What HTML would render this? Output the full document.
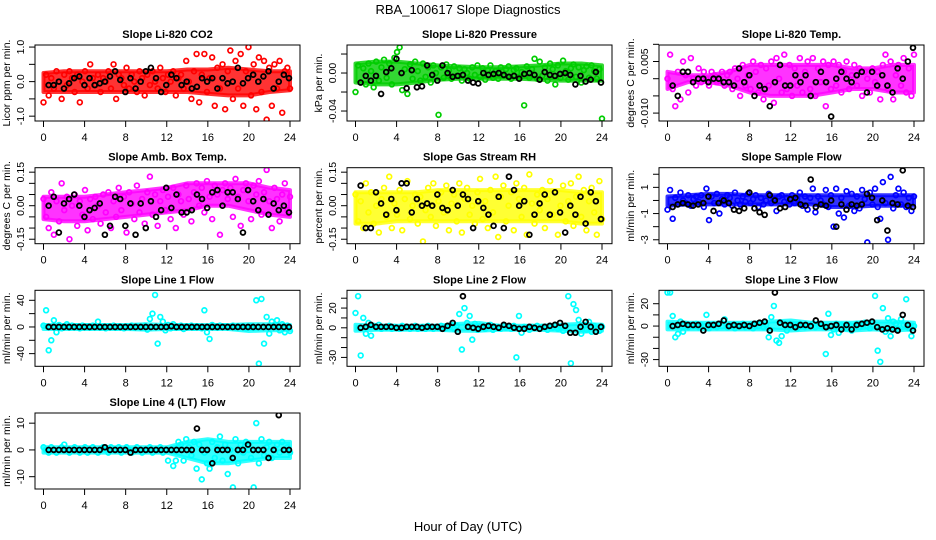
<!DOCTYPE html>
<html><head><meta charset="utf-8">
<style>
html,body{margin:0;padding:0;background:#fff;}
svg{display:block;font-family:"Liberation Sans",Arial,sans-serif;}
</style></head>
<body>
<svg id="chart" width="936" height="540" viewBox="0 0 936 540" xmlns="http://www.w3.org/2000/svg">
<rect width="936" height="540" fill="#fff"/>
<text x="468" y="14" font-size="13" text-anchor="middle">RBA_100617  Slope Diagnostics</text>
<text x="468" y="531" font-size="13" text-anchor="middle">Hour of Day (UTC)</text>
</svg>
<script>
const xTicks = [0,4,8,12,16,20,24];
const bandHours = [0,2,4,6,8,10,12,14,16,18,20,22,24];
const panelTitles = ["Slope Li-820 CO2","Slope Li-820 Pressure","Slope Li-820 Temp.","Slope Amb. Box Temp.","Slope Gas Stream RH","Slope Sample Flow","Slope Line 1 Flow","Slope Line 2 Flow","Slope Line 3 Flow","Slope Line 4 (LT) Flow"];
const yTitles = ["Licor ppm per min.","kPa per min.","degrees C per min.","degrees C per min.","percent per min.","ml/min per min.","ml/min per min.","ml/min per min.","ml/min per min.","ml/min per min."];
const yLims = [[-1.14,1.06],[-0.0505,0.0295],[-0.0123,0.0098],[-0.17,0.17],[-0.17,0.17],[-3.3,2.5],[-59,55],[-39,38],[-36,32],[-14.6,13.8]];
const yTickVals = [[-1,-0.5,0,0.5,1],[-0.04,-0.02,0,0.02],[-0.01,-0.005,0,0.005,0.01],[-0.15,-0.1,-0.05,0,0.05,0.1,0.15],[-0.15,-0.1,-0.05,0,0.05,0.1,0.15],[-3,-2,-1,0,1,2],[-40,-20,0,20,40],[-30,-20,-10,0,10,20,30],[-30,-20,-10,0,10,20],[-10,0,10]];
const yTickLabels = [["-1.0","","0.0","","1.0"],["-0.04","","0.00",""],["-0.010","","","0.005",""],["-0.15","","","0.00","","","0.15"],["-0.15","","","0.00","","","0.15"],["-3","","-1","","1",""],["-40","","0","","40"],["-30","","","0","","20",""],["-30","","","0","","20"],["-10","0","10"]];
const seriesColors = ["#ff0000","#00cd00","#ff00ff","#ff00ff","#ffff00","#0000ff","#00ffff","#00ffff","#00ffff","#00ffff"];

const bandHi1=[0.25,0.3,0.3,0.3,0.3,0.3,0.3,0.35,0.35,0.4,0.35,0.3,0.3];
const bandLo1=[-0.3,-0.3,-0.3,-0.3,-0.3,-0.3,-0.3,-0.3,-0.35,-0.4,-0.4,-0.3,-0.25];
const bandHi2=[0.01,0.012,0.012,0.01,0.008,0.007,0.006,0.006,0.007,0.008,0.01,0.01,0.008];
const bandLo2=[-0.01,-0.012,-0.012,-0.01,-0.007,-0.006,-0.006,-0.006,-0.006,-0.007,-0.008,-0.008,-0.008];
const bandHi3=[0.002,0.001,0.001,0.002,0.004,0.004,0.004,0.004,0.004,0.003,0.003,0.004,0.004];
const bandLo3=[-0.003,-0.001,-0.001,-0.002,-0.004,-0.005,-0.005,-0.005,-0.004,-0.003,-0.003,-0.004,-0.004];
const bandHi4=[0.04,0.04,0.04,0.05,0.06,0.07,0.08,0.1,0.1,0.1,0.1,0.08,0.07];
const bandLo4=[-0.06,-0.07,-0.07,-0.06,-0.05,-0.04,-0.03,-0.02,0.0,0.0,-0.02,-0.04,-0.05];
const bandHi5=[0.06,0.06,0.06,0.06,0.07,0.07,0.07,0.07,0.07,0.07,0.07,0.06,0.06];
const bandLo5=[-0.08,-0.08,-0.07,-0.07,-0.07,-0.07,-0.07,-0.07,-0.07,-0.07,-0.07,-0.08,-0.08];
const bandHi6=[0.3,0.4,0.5,0.5,0.4,0.4,0.4,0.4,0.4,0.4,0.4,0.4,0.4];
const bandLo6=[-0.4,-0.3,-0.3,-0.3,-0.3,-0.3,-0.3,-0.3,-0.5,-0.5,-0.4,-0.4,-0.4];
const bandHi7=[3,3,3,3,3,4,3,3,3,3,4,4,3];
const bandLo7=[-3,-3,-3,-3,-3,-4,-3,-3,-3,-3,-6,-5,-5];
const bandHi8=[3,2,2,2,2,4,5,2,2,2,3,4,3];
const bandLo8=[-3,-2,-2,-2,-2,-3,-3,-2,-2,-2,-3,-4,-3];
const bandHi9=[4,3,3,3,3,4,5,3,3,3,4,4,3];
const bandLo9=[-3,-3,-3,-3,-3,-3,-4,-3,-3,-4,-3,-4,-3];
const bandHi10=[1,1,1,1,1,1,1,3,4,3,3,3,3];
const bandLo10=[-1,-1,-1,-1,-1,-1,-1,-3,-5,-5,-4,-3,-3];

const c1=[-0.6,0.2,-0.4,0.1,-0.2,0.3,0.0,-0.5,0.2,-0.1,0.3,0.1,-0.3,0.2,-0.6,0.0,0.3,-0.2,0.5,0.1,-0.1,0.2,-0.3,0.1,0.0,0.3,-0.2,0.5,-0.5,0.2,0.1,-0.1,0.4,-0.2,0.2,0.0,-0.3,0.3,0.1,-0.4,0.2,-0.1,0.3,0.0,-0.2,0.4,0.1,-0.3,0.2,0.0,0.3,-0.4,0.1,0.2,-0.2,0.6,0.0,-0.5,0.3,0.8,-0.6,0.2,0.8,-0.3,0.1,0.7,-0.7,0.4,-0.2,0.5,-0.8,0.3,0.9,-0.5,0.6,-0.2,0.8,-0.7,0.3,1.0,-0.4,0.5,-0.8,0.7,-0.3,0.6,-1.1,0.4,-0.7,0.5,-0.2,0.6,-0.9,0.3,0.4,-0.2];
const b1=[-0.1,-0.1,0.0,-0.2,-0.05,0.1,0.15,-0.1,0.1,-0.1,-0.05,0.0,0.15,0.3,0.05,-0.3,0.1,-0.2,0.0,0.3,0.4,0.1,-0.3,-0.1,0.2,0.1,-0.1,0.0,-0.2,-0.15,0.1,0.0,0.1,-0.2,0.1,-0.05,0.0,0.4,-0.05,0.1,0.2,0.0,0.15,0.3,-0.2,0.0,0.2,0.1];
const c2=[-0.02,0.008,-0.01,0.005,-0.012,0.01,0.002,-0.015,0.012,-0.008,0.006,0.014,-0.005,0.01,-0.012,0.016,0.022,0.027,-0.018,0.004,-0.022,0.009,-0.006,0.012,0.002,-0.008,0.01,-0.004,0.006,-0.01,0.008,0.0,-0.044,0.006,-0.005,0.009,0.003,-0.006,0.007,-0.003,0.005,-0.008,0.004,0.0,-0.006,0.006,-0.002,0.008,-0.004,0.005,-0.007,0.003,0.008,-0.005,0.002,-0.006,0.006,-0.003,0.004,0.007,-0.006,0.003,0.005,-0.004,0.001,-0.034,0.007,-0.005,0.004,0.015,-0.006,0.012,-0.003,0.006,-0.008,0.01,0.004,-0.012,0.008,-0.005,0.013,0.002,-0.007,0.005,0.009,-0.004,0.006,-0.01,0.003,0.007,-0.005,0.008,0.002,-0.006,0.004,-0.048];
const b2=[-0.01,-0.003,-0.008,-0.003,-0.022,0.001,0.005,0.015,0.0,-0.016,0.003,-0.015,-0.014,0.008,-0.002,-0.008,0.008,0.0,-0.004,-0.003,-0.002,-0.008,-0.01,-0.011,0.0,-0.002,-0.001,0.0,-0.002,-0.004,-0.003,-0.006,-0.001,0.0,-0.002,-0.007,0.001,-0.002,-0.003,-0.001,0.0,-0.002,-0.012,-0.003,-0.009,-0.007,0.001,-0.01];
const c3=[0.0,0.007,-0.003,-0.008,0.002,-0.006,0.005,0.001,-0.004,0.006,0.0,-0.002,0.003,-0.001,0.002,0.0,-0.002,0.002,0.001,-0.001,0.0,0.002,-0.002,0.001,0.002,-0.003,0.003,0.0,-0.005,0.004,-0.002,0.001,-0.003,0.005,0.002,-0.004,0.004,-0.006,0.003,-0.002,0.005,-0.007,0.006,0.0,-0.004,0.007,-0.003,0.004,-0.005,0.003,-0.002,0.006,-0.004,0.002,0.005,-0.003,0.006,-0.005,0.003,-0.001,0.005,-0.008,0.004,-0.003,0.005,-0.002,0.004,-0.004,0.002,0.005,-0.003,0.001,0.004,-0.002,0.003,-0.005,0.002,0.0,-0.004,0.003,-0.001,0.002,-0.006,0.004,0.007,-0.003,0.005,-0.006,0.001,0.004,-0.002,0.006,-0.004,0.003,-0.005,0.007];
const b3=[-0.002,-0.005,0.002,0.002,-0.001,0.0,0.0,-0.001,0.0,0.0,-0.001,-0.001,-0.002,0.003,-0.001,0.001,-0.005,-0.002,-0.003,-0.008,-0.001,0.004,-0.002,-0.002,0.001,-0.001,0.001,-0.005,-0.001,0.002,-0.001,-0.011,0.0,0.002,0.0,-0.001,0.001,0.002,-0.004,0.002,-0.002,0.001,-0.002,-0.004,0.003,0.0,0.005,0.009];
const c4=[0.03,-0.05,-0.1,0.06,-0.13,0.02,-0.07,0.1,-0.02,0.04,-0.15,0.0,0.05,-0.09,0.02,-0.04,0.07,-0.11,0.03,-0.06,0.04,0.0,-0.08,0.05,-0.03,0.06,-0.1,0.02,-0.05,0.08,-0.02,0.04,-0.12,0.06,0.01,-0.06,0.09,-0.03,0.03,-0.08,0.06,0.13,-0.04,0.05,-0.09,0.02,0.07,-0.02,0.04,-0.06,0.08,-0.1,0.05,0.02,-0.04,0.09,0.03,-0.07,0.06,0.1,0.0,0.08,-0.03,0.11,0.04,-0.06,0.09,0.05,-0.13,0.07,0.1,0.03,0.08,-0.05,0.12,0.04,-0.09,0.07,0.1,0.02,-0.06,0.09,0.05,0.11,-0.04,0.06,0.16,0.02,-0.1,0.08,0.03,-0.07,0.05,0.1,-0.02,0.04];
const b4=[0.0,0.04,-0.12,0.01,0.03,0.05,0.0,-0.05,-0.02,-0.01,0.01,-0.13,-0.09,0.04,0.03,-0.09,0.01,-0.13,0.01,-0.1,0.02,-0.05,-0.02,0.08,-0.01,0.05,-0.03,-0.03,-0.02,0.05,0.03,-0.01,0.06,0.07,0.0,0.06,0.06,0.03,-0.12,0.07,0.02,-0.02,0.03,-0.04,0.01,-0.02,0.0,-0.03];
const c5=[0.05,-0.07,0.02,-0.1,0.1,-0.03,0.06,-0.08,0.0,-0.12,0.03,0.08,-0.05,0.13,-0.1,0.01,-0.04,0.07,-0.11,0.03,0.11,-0.06,0.0,0.05,-0.08,0.04,-0.16,-0.02,0.08,-0.05,0.1,-0.09,0.02,0.06,-0.03,0.09,-0.11,0.01,0.05,-0.07,0.1,-0.12,0.03,0.08,-0.04,0.0,-0.08,0.06,0.12,-0.06,0.02,-0.1,0.07,-0.03,0.13,-0.14,0.04,0.09,-0.07,0.0,0.06,-0.11,0.1,0.03,-0.05,0.08,-0.13,0.14,0.01,-0.08,0.05,-0.02,0.07,-0.1,0.03,0.11,-0.04,0.06,-0.13,0.0,0.09,-0.07,0.02,0.1,-0.09,0.04,0.13,-0.05,0.07,-0.11,0.02,0.08,-0.03,-0.13,0.11,-0.06];
const b5=[0.09,-0.1,-0.1,0.06,0.01,-0.04,0.03,-0.02,0.1,0.1,-0.03,0.03,0.0,0.01,0.0,0.05,-0.01,-0.02,0.07,0.0,0.05,0.03,-0.1,0.02,-0.01,-0.04,-0.09,0.04,-0.1,0.13,0.07,0.0,0.02,-0.13,-0.04,0.01,0.05,-0.04,0.06,-0.03,-0.12,0.0,-0.04,0.04,-0.08,0.06,0.02,-0.06];
const c6=[-0.7,0.8,-1.4,0.2,-0.3,0.6,0.0,-0.2,0.4,-0.4,0.1,0.3,-0.1,0.4,-0.5,0.9,-1.5,0.3,-0.2,0.5,-1.0,0.1,-0.3,0.4,0.2,-0.4,0.6,0.0,-0.3,0.3,-0.1,0.5,-0.2,0.1,0.4,-0.5,0.2,-0.3,0.0,0.5,-0.2,0.1,-0.8,0.3,0.4,-0.1,0.2,-0.3,0.4,-0.2,0.1,0.6,-0.4,0.3,-0.7,0.2,0.9,-0.9,0.3,0.0,-0.3,0.8,-0.5,0.4,-2.0,0.9,-1.0,0.2,-1.3,0.7,-0.4,0.5,-0.8,0.3,-0.6,0.8,0.1,-3.2,0.6,-0.3,0.9,-0.5,-1.4,1.4,-0.2,-3.0,1.8,-0.6,0.4,0.9,-0.3,0.6,-0.5,0.2,-0.8,0.3];
const b6=[-0.5,-0.3,-0.2,-0.3,-0.4,-0.3,-0.2,0.3,-0.8,-0.2,0.0,-0.2,-0.7,-0.8,-0.6,0.6,-0.6,-0.9,-1.1,0.4,0.0,-0.6,-0.5,0.1,0.2,-0.3,-0.4,1.6,-0.5,-0.3,-0.4,0.0,-2.0,-0.3,-0.7,-0.3,-0.4,-0.3,0.5,0.2,-1.5,0.0,-2.3,-0.2,-0.3,2.3,-0.4,-0.5];
const c7=[2,25,-35,-20,10,-8,3,-2,1,4,-1,2,0,1,-2,2,0,1,-1,2,0,8,-1,1,-2,1,0,2,-1,1,0,-2,1,0,2,-1,1,0,-1,2,-4,12,20,48,-25,15,8,-5,3,-2,4,-1,0,2,-3,1,0,2,-1,1,0,-2,25,-8,-18,3,1,-1,2,0,1,-1,0,2,-1,1,0,1,-2,0,1,-1,40,-55,42,-25,15,-10,8,3,10,-5,4,-8,2,-6];
const b7=[0,0,0,0,0,0,0,0,0,0,0,0,0,0,0,0,0,0,0,0,0,0,0,0,1,0,0,0,0,0,0,0,0,0,0,0,0,0,0,0,0,0,0,0,0,0,0,0];
const c8=[15,32,-28,10,-6,5,-8,2,0,3,-1,1,0,2,-1,1,0,-1,2,0,1,-1,0,2,-1,0,1,-1,2,0,-1,1,0,2,-1,0,1,3,-1,2,14,-22,20,5,12,-12,4,-2,2,0,-1,1,3,-2,0,1,-1,2,0,1,-1,2,-30,12,-5,1,0,-2,1,0,2,-1,1,0,-2,2,0,3,-1,1,-3,2,32,-36,24,18,8,-6,3,-2,6,-4,2,0,-3,1];
const b8=[0,1,3,1,1,1,1,0,0,1,1,1,0,1,1,1,-1,2,5,-4,32,1,0,-1,1,2,1,0,3,2,0,-1,-1,1,0,-1,1,2,3,5,2,-5,-5,1,6,1,-4,1];
const c9=[30,30,9,-10,-7,4,-5,2,-1,1,0,2,-1,1,0,10,-2,1,0,-1,2,0,6,-1,1,0,-2,1,0,2,-1,0,1,-2,1,0,2,-1,1,-10,8,18,-13,-15,-9,2,-4,1,0,1,-2,2,0,-1,1,0,2,-1,1,0,-1,-25,11,-8,-3,2,-6,1,0,-2,1,-4,0,2,-1,1,3,0,-2,1,27,-22,-32,16,-5,7,-9,4,2,-3,6,1,24,-2,-9,0];
const b9=[0,1,2,1,1,1,-4,1,1,2,5,0,1,0,1,0,2,3,4,-4,30,3,1,1,-1,1,1,0,5,2,-1,0,1,-3,1,-3,1,2,3,4,-1,-3,-2,-3,-4,10,1,-4];
const c10=[1,0,-1,1,0,-1,0,1,2,0,-1,0,1,0,-1,0,1,-1,0,1,0,-1,0,1,0,-1,1,0,0,1,-1,0,1,0,-1,0,1,0,-1,0,0,1,-1,0,0,1,-1,0,-4,0,-6,-4,3,2,-4,4,1,-2,3,-7,2,-11,-1,-5,-7,3,-3,1,5,-4,2,-9,0,-14,4,-5,2,-1,3,0,-3,-14,10,-5,4,-2,1,3,-3,0,2,-1,3,0,1,-1];
const b10=[0,0,0,0,0,0,0,0,0,0,0,1,0,0,0,0,-1,0,0,0,0,0,0,0,0,0,0,0,0,8,0,0,-5,0,0,0,-3,0,0,2,0,0,0,-3,0,13,0,0];

const colorSeries=[c1,c2,c3,c4,c5,c6,c7,c8,c9,c10];
const blackSeries=[b1,b2,b3,b4,b5,b6,b7,b8,b9,b10];
const bandHis=[bandHi1,bandHi2,bandHi3,bandHi4,bandHi5,bandHi6,bandHi7,bandHi8,bandHi9,bandHi10];
const bandLos=[bandLo1,bandLo2,bandLo3,bandLo4,bandLo5,bandLo6,bandLo7,bandLo8,bandLo9,bandLo10];

const NS="http://www.w3.org/2000/svg";
const svg=document.getElementById('chart');
const colLefts=[35,347,659], rowTops=[45,167.7,290.3,413];
const BW=265, BH=76;
function mk(tag,attrs,parent){const e=document.createElementNS(NS,tag);for(const k in attrs)e.setAttribute(k,attrs[k]);parent.appendChild(e);return e;}

for(let p=0;p<10;p++){
  const L=colLefts[p%3], T=rowTops[Math.floor(p/3)];
  const g=mk('g',{},svg);
  
  
  const xS=h=>L+8.5+h*(246.5/24);
  const [y0,y1]=yLims[p];
  const yS=v=>T+BH-(v-y0)/(y1-y0)*BH;
  const clip='clip'+p;
  const cp=mk('clipPath',{id:clip},g);
  mk('rect',{x:L,y:T,width:BW,height:BH},cp);
  const pts=mk('g',{'clip-path':'url(#'+clip+')'},g);
  
  
  const hi=bandHis[p], lo=bandLos[p];
  let d='';
  bandHours.forEach((h,i)=>{d+=(i?'L':'M')+xS(h).toFixed(1)+' '+yS(hi[i]).toFixed(1);});
  for(let i=bandHours.length-1;i>=0;i--){d+='L'+xS(bandHours[i]).toFixed(1)+' '+yS(lo[i]).toFixed(1);}
  d+='Z';
  const band=mk('path',{d:d,fill:seriesColors[p],'fill-opacity':0.8,stroke:seriesColors[p],'stroke-opacity':0.8,'stroke-width':4,'stroke-linejoin':'round'},pts);
  
  
  const cs=colorSeries[p];
  cs.forEach((v,i)=>{
    const c=mk('circle',{cx:xS(i*24/(cs.length-1)),cy:yS(v),r:2.4,fill:'none',stroke:seriesColors[p],'stroke-width':1.7},pts);
    
    
  });
  const bs=blackSeries[p];
  bs.forEach((v,i)=>{
    const c=mk('circle',{cx:xS(0.5+i*23.4/(bs.length-1)),cy:yS(v),r:2.4,fill:'none',stroke:'#000','stroke-width':1.8},pts);
    
    
  });
  const box=mk('rect',{x:L,y:T,width:BW,height:BH,fill:'none',stroke:'#000','stroke-width':1},g);
  
  
  const tt=mk('text',{x:L+BW/2,y:T-7,'font-size':11,'font-weight':'bold','text-anchor':'middle'},g);
  tt.textContent=panelTitles[p];
  
  
  xTicks.forEach(h=>{
    mk('line',{x1:xS(h),x2:xS(h),y1:T+BH,y2:T+BH+6,stroke:'#000'},g);
    const t=mk('text',{x:xS(h),y:T+BH+20,'font-size':11,'text-anchor':'middle'},g);
    t.textContent=h;
    
    
  });
  yTickVals[p].forEach((v,i)=>{
    const y=yS(v);
    mk('line',{x1:L,x2:L-6,y1:y,y2:y,stroke:'#000'},g);
    if(yTickLabels[p][i]){
      const t=mk('text',{x:L-11,y:y,'font-size':10.5,'text-anchor':'middle',transform:'rotate(-90 '+(L-11)+' '+y+')'},g);
      t.textContent=yTickLabels[p][i];
      
      
    }
  });
  const yt=mk('text',{x:L-25,y:T+BH/2,'font-size':10.5,'text-anchor':'middle',transform:'rotate(-90 '+(L-25)+' '+(T+BH/2)+')'},g);
  yt.textContent=yTitles[p];
  
  
}
</script>
</body></html>
